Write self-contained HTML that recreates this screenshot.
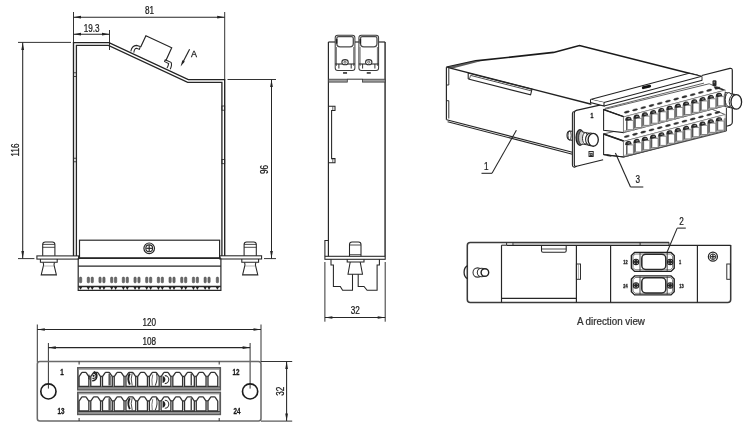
<!DOCTYPE html>
<html><head><meta charset="utf-8"><title>Module drawing</title>
<style>
html,body{margin:0;padding:0;background:#fff;}
body{width:750px;height:430px;overflow:hidden;font-family:"Liberation Sans",sans-serif;}
svg{display:block;font-family:"Liberation Sans",sans-serif;filter:blur(0.45px);}
</style></head><body>
<svg width="750" height="430" viewBox="0 0 750 430">
<rect x="0" y="0" width="750" height="430" fill="#fff"/>
<line x1="73.50" y1="12.00" x2="73.50" y2="42.50" stroke="#262626" stroke-width="0.944" />
<line x1="224.70" y1="12.00" x2="224.70" y2="79.50" stroke="#262626" stroke-width="0.944" />
<line x1="73.50" y1="17.20" x2="224.70" y2="17.20" stroke="#262626" stroke-width="1.062" />
<polygon points="73.50,17.20 81.00,15.85 81.00,18.55" fill="#222"/>
<polygon points="224.70,17.20 217.20,18.55 217.20,15.85" fill="#222"/>
<text x="0" y="0" transform="translate(149.60 13.90) scale(0.77 1)" font-size="10.6" text-anchor="middle" font-weight="normal" fill="#1a1a1a" stroke="#1a1a1a" stroke-width="0.25" >81</text>
<line x1="73.50" y1="34.20" x2="109.50" y2="34.20" stroke="#262626" stroke-width="1.062" />
<polygon points="73.50,34.20 81.00,32.85 81.00,35.55" fill="#222"/>
<polygon points="109.50,34.20 102.00,35.55 102.00,32.85" fill="#222"/>
<line x1="109.50" y1="30.00" x2="109.50" y2="50.00" stroke="#262626" stroke-width="0.944" />
<text x="0" y="0" transform="translate(91.60 31.50) scale(0.77 1)" font-size="10.6" text-anchor="middle" font-weight="normal" fill="#1a1a1a" stroke="#1a1a1a" stroke-width="0.25" >19.3</text>
<line x1="18.00" y1="42.40" x2="71.00" y2="42.40" stroke="#262626" stroke-width="0.944" />
<line x1="18.00" y1="258.60" x2="34.40" y2="258.60" stroke="#262626" stroke-width="0.944" />
<line x1="22.70" y1="42.40" x2="22.70" y2="258.60" stroke="#262626" stroke-width="1.062" />
<polygon points="22.70,42.40 24.05,49.90 21.35,49.90" fill="#222"/>
<polygon points="22.70,258.60 21.35,251.10 24.05,251.10" fill="#222"/>
<text x="0" y="0" transform="translate(19.00 150.00) rotate(-90) scale(0.77 1)" font-size="10.6" text-anchor="middle" font-weight="normal" fill="#1a1a1a" stroke="#1a1a1a" stroke-width="0.25" >116</text>
<line x1="227.50" y1="79.50" x2="276.00" y2="79.50" stroke="#262626" stroke-width="0.944" />
<line x1="264.00" y1="258.60" x2="276.00" y2="258.60" stroke="#262626" stroke-width="0.944" />
<line x1="271.50" y1="79.50" x2="271.50" y2="258.60" stroke="#262626" stroke-width="1.062" />
<polygon points="271.50,79.50 272.85,87.00 270.15,87.00" fill="#222"/>
<polygon points="271.50,258.60 270.15,251.10 272.85,251.10" fill="#222"/>
<text x="0" y="0" transform="translate(268.30 169.50) rotate(-90) scale(0.77 1)" font-size="10.6" text-anchor="middle" font-weight="normal" fill="#1a1a1a" stroke="#1a1a1a" stroke-width="0.25" >96</text>
<path d="M73.5 256 L73.5 42.6 L109 42.6 L188.3 79.6 L224.7 79.6 L224.7 256" stroke="#222" stroke-width="1.357" fill="none" />
<path d="M76.4 256 L76.4 45.3 L108.4 45.3 L187.7 82.3 L221.9 82.3 L221.9 256" stroke="#262626" stroke-width="1.298" fill="none" />
<rect x="73.50" y="72.80" width="2.90" height="3.60" rx="0" stroke="#262626" stroke-width="0.826" fill="none"/>
<rect x="73.50" y="158.20" width="2.90" height="3.60" rx="0" stroke="#262626" stroke-width="0.826" fill="none"/>
<rect x="221.90" y="106.00" width="2.80" height="4.20" rx="0" stroke="#262626" stroke-width="0.826" fill="none"/>
<rect x="221.90" y="159.50" width="2.80" height="4.20" rx="0" stroke="#262626" stroke-width="0.826" fill="none"/>
<path d="M140.7 47.1 L145.9 35.7 L171.7 47.7 L165.7 61" stroke="#262626" stroke-width="1.18" fill="none" />
<path d="M130.8 51.3 C131.5 47.5 133.5 45.6 136.5 45.4 L140.3 46.6 L139.4 49.4 L136.6 48.3 C135 48.4 134.2 49.6 133.8 52.6" stroke="#262626" stroke-width="1.062" fill="none" />
<path d="M165.2 59.7 L171 62.3 C172 64 171.5 66.5 170.2 69.2 M166.2 62.4 L168.6 63.6 C168.4 65.4 167.8 66.8 167 68 M165.2 59.7 L164.6 61.6 L166.2 62.4" stroke="#262626" stroke-width="1.062" fill="none" />
<line x1="189.60" y1="49.20" x2="182.60" y2="62.80" stroke="#262626" stroke-width="1.18" />
<polygon points="180.60,66.60 182.36,60.19 184.84,61.48" fill="#222"/>
<text x="0" y="0" transform="translate(194.00 56.70) scale(0.95 1)" font-size="9.5" text-anchor="middle" font-weight="normal" fill="#1a1a1a" stroke="#1a1a1a" stroke-width="0.25" >A</text>
<rect x="36.90" y="255.90" width="41.70" height="3.20" rx="0" stroke="#262626" stroke-width="1.062" fill="none"/>
<rect x="219.80" y="255.80" width="41.80" height="3.20" rx="0" stroke="#262626" stroke-width="1.062" fill="none"/>
<path d="M42.699999999999996 255.8 L42.699999999999996 244.6 Q42.699999999999996 242 45.3 242 L52.3 242 Q54.9 242 54.9 244.6 L54.9 255.8" stroke="#262626" stroke-width="1.062" fill="none" />
<line x1="42.70" y1="244.40" x2="54.90" y2="244.40" stroke="#262626" stroke-width="0.826" />
<line x1="42.70" y1="247.30" x2="54.90" y2="247.30" stroke="#262626" stroke-width="0.826" />
<path d="M40.4 259.1 L40.4 262.3 L57.199999999999996 262.3 L57.199999999999996 259.1" stroke="#262626" stroke-width="1.062" fill="none" />
<path d="M43.199999999999996 262.3 L43.599999999999994 265 L41.199999999999996 274.9 L56.4 274.9 L54.0 265 L54.4 262.3" stroke="#262626" stroke-width="1.062" fill="none" />
<line x1="43.60" y1="266.00" x2="54.00" y2="266.00" stroke="#888" stroke-width="0.59" />
<path d="M244.1 255.8 L244.1 244.6 Q244.1 242 246.7 242 L253.7 242 Q256.3 242 256.3 244.6 L256.3 255.8" stroke="#262626" stroke-width="1.062" fill="none" />
<line x1="244.10" y1="244.40" x2="256.30" y2="244.40" stroke="#262626" stroke-width="0.826" />
<line x1="244.10" y1="247.30" x2="256.30" y2="247.30" stroke="#262626" stroke-width="0.826" />
<path d="M241.79999999999998 259.1 L241.79999999999998 262.3 L258.59999999999997 262.3 L258.59999999999997 259.1" stroke="#262626" stroke-width="1.062" fill="none" />
<path d="M244.6 262.3 L245.0 265 L242.6 274.9 L257.8 274.9 L255.39999999999998 265 L255.79999999999998 262.3" stroke="#262626" stroke-width="1.062" fill="none" />
<line x1="245.00" y1="266.00" x2="255.40" y2="266.00" stroke="#888" stroke-width="0.59" />
<rect x="79.50" y="240.20" width="140.10" height="17.80" rx="0" stroke="#262626" stroke-width="1.18" fill="none"/>
<line x1="78.20" y1="258.20" x2="220.90" y2="258.20" stroke="#262626" stroke-width="1.534" />
<path d="M78.2 258.2 L78.2 290.3 L220.9 290.3 L220.9 258.2" stroke="#262626" stroke-width="1.18" fill="none" />
<line x1="78.20" y1="266.10" x2="220.90" y2="266.10" stroke="#262626" stroke-width="1.062" />
<line x1="78.20" y1="286.50" x2="220.90" y2="286.50" stroke="#262626" stroke-width="1.652" />
<circle cx="149.20" cy="248.30" r="5.30" stroke="#262626" stroke-width="1.18" fill="none"/>
<circle cx="149.20" cy="248.30" r="3.40" stroke="#262626" stroke-width="1.062" fill="none"/>
<line x1="146.20" y1="248.30" x2="152.20" y2="248.30" stroke="#262626" stroke-width="1.18" />
<line x1="149.20" y1="245.30" x2="149.20" y2="251.30" stroke="#262626" stroke-width="1.18" />
<rect x="79.45" y="277.1" width="2.3" height="5.7" rx="0.9" fill="#6a6a6a" stroke="#444" stroke-width="0.5"/>
<rect x="216.25" y="277.1" width="2.3" height="5.7" rx="0.9" fill="#6a6a6a" stroke="#444" stroke-width="0.5"/>
<polygon points="79,287 82.2,287 80.6,289.8" fill="#222"/>
<polygon points="215.8,287 219,287 217.4,289.8" fill="#222"/>
<rect x="87.20" y="277.1" width="2.3" height="5.7" rx="0.9" fill="#6a6a6a" stroke="#444" stroke-width="0.5"/>
<rect x="91.10" y="277.1" width="2.3" height="5.7" rx="0.9" fill="#6a6a6a" stroke="#444" stroke-width="0.5"/>
<polygon points="86.75,287 89.95,287 88.35,289.9" fill="#222"/>
<polygon points="90.65,287 93.85,287 92.25,289.9" fill="#222"/>
<rect x="98.88" y="277.1" width="2.3" height="5.7" rx="0.9" fill="#6a6a6a" stroke="#444" stroke-width="0.5"/>
<rect x="102.78" y="277.1" width="2.3" height="5.7" rx="0.9" fill="#6a6a6a" stroke="#444" stroke-width="0.5"/>
<polygon points="98.43,287 101.63,287 100.03,289.9" fill="#222"/>
<polygon points="102.33,287 105.53,287 103.93,289.9" fill="#222"/>
<rect x="110.56" y="277.1" width="2.3" height="5.7" rx="0.9" fill="#6a6a6a" stroke="#444" stroke-width="0.5"/>
<rect x="114.46" y="277.1" width="2.3" height="5.7" rx="0.9" fill="#6a6a6a" stroke="#444" stroke-width="0.5"/>
<polygon points="110.11,287 113.31,287 111.71,289.9" fill="#222"/>
<polygon points="114.01,287 117.21,287 115.61,289.9" fill="#222"/>
<rect x="122.24" y="277.1" width="2.3" height="5.7" rx="0.9" fill="#6a6a6a" stroke="#444" stroke-width="0.5"/>
<rect x="126.14" y="277.1" width="2.3" height="5.7" rx="0.9" fill="#6a6a6a" stroke="#444" stroke-width="0.5"/>
<polygon points="121.79,287 124.99,287 123.39,289.9" fill="#222"/>
<polygon points="125.69,287 128.89,287 127.29,289.9" fill="#222"/>
<rect x="133.92" y="277.1" width="2.3" height="5.7" rx="0.9" fill="#6a6a6a" stroke="#444" stroke-width="0.5"/>
<rect x="137.82" y="277.1" width="2.3" height="5.7" rx="0.9" fill="#6a6a6a" stroke="#444" stroke-width="0.5"/>
<polygon points="133.47,287 136.67,287 135.07,289.9" fill="#222"/>
<polygon points="137.37,287 140.57,287 138.97,289.9" fill="#222"/>
<rect x="145.60" y="277.1" width="2.3" height="5.7" rx="0.9" fill="#6a6a6a" stroke="#444" stroke-width="0.5"/>
<rect x="149.50" y="277.1" width="2.3" height="5.7" rx="0.9" fill="#6a6a6a" stroke="#444" stroke-width="0.5"/>
<polygon points="145.15,287 148.35,287 146.75,289.9" fill="#222"/>
<polygon points="149.05,287 152.25,287 150.65,289.9" fill="#222"/>
<rect x="157.28" y="277.1" width="2.3" height="5.7" rx="0.9" fill="#6a6a6a" stroke="#444" stroke-width="0.5"/>
<rect x="161.18" y="277.1" width="2.3" height="5.7" rx="0.9" fill="#6a6a6a" stroke="#444" stroke-width="0.5"/>
<polygon points="156.83,287 160.03,287 158.43,289.9" fill="#222"/>
<polygon points="160.73,287 163.93,287 162.33,289.9" fill="#222"/>
<rect x="168.96" y="277.1" width="2.3" height="5.7" rx="0.9" fill="#6a6a6a" stroke="#444" stroke-width="0.5"/>
<rect x="172.86" y="277.1" width="2.3" height="5.7" rx="0.9" fill="#6a6a6a" stroke="#444" stroke-width="0.5"/>
<polygon points="168.51,287 171.71,287 170.11,289.9" fill="#222"/>
<polygon points="172.41,287 175.61,287 174.01,289.9" fill="#222"/>
<rect x="180.64" y="277.1" width="2.3" height="5.7" rx="0.9" fill="#6a6a6a" stroke="#444" stroke-width="0.5"/>
<rect x="184.54" y="277.1" width="2.3" height="5.7" rx="0.9" fill="#6a6a6a" stroke="#444" stroke-width="0.5"/>
<polygon points="180.19,287 183.39,287 181.79,289.9" fill="#222"/>
<polygon points="184.09,287 187.29,287 185.69,289.9" fill="#222"/>
<rect x="192.32" y="277.1" width="2.3" height="5.7" rx="0.9" fill="#6a6a6a" stroke="#444" stroke-width="0.5"/>
<rect x="196.22" y="277.1" width="2.3" height="5.7" rx="0.9" fill="#6a6a6a" stroke="#444" stroke-width="0.5"/>
<polygon points="191.87,287 195.07,287 193.47,289.9" fill="#222"/>
<polygon points="195.77,287 198.97,287 197.37,289.9" fill="#222"/>
<rect x="204.00" y="277.1" width="2.3" height="5.7" rx="0.9" fill="#6a6a6a" stroke="#444" stroke-width="0.5"/>
<rect x="207.90" y="277.1" width="2.3" height="5.7" rx="0.9" fill="#6a6a6a" stroke="#444" stroke-width="0.5"/>
<polygon points="203.55,287 206.75,287 205.15,289.9" fill="#222"/>
<polygon points="207.45,287 210.65,287 209.05,289.9" fill="#222"/>
<line x1="37.30" y1="324.50" x2="37.30" y2="362.00" stroke="#262626" stroke-width="0.944" />
<line x1="261.00" y1="324.50" x2="261.00" y2="362.00" stroke="#262626" stroke-width="0.944" />
<line x1="37.30" y1="329.50" x2="261.00" y2="329.50" stroke="#262626" stroke-width="1.062" />
<polygon points="37.30,329.50 44.80,328.15 44.80,330.85" fill="#222"/>
<polygon points="261.00,329.50 253.50,330.85 253.50,328.15" fill="#222"/>
<text x="0" y="0" transform="translate(149.20 326.30) scale(0.77 1)" font-size="10.6" text-anchor="middle" font-weight="normal" fill="#1a1a1a" stroke="#1a1a1a" stroke-width="0.25" >120</text>
<line x1="48.40" y1="343.00" x2="48.40" y2="388.60" stroke="#262626" stroke-width="0.944" />
<line x1="250.10" y1="343.00" x2="250.10" y2="388.60" stroke="#262626" stroke-width="0.944" />
<line x1="48.30" y1="347.60" x2="250.10" y2="347.60" stroke="#262626" stroke-width="1.062" />
<polygon points="48.30,347.60 55.80,346.25 55.80,348.95" fill="#222"/>
<polygon points="250.10,347.60 242.60,348.95 242.60,346.25" fill="#222"/>
<text x="0" y="0" transform="translate(149.20 344.50) scale(0.77 1)" font-size="10.6" text-anchor="middle" font-weight="normal" fill="#1a1a1a" stroke="#1a1a1a" stroke-width="0.25" >108</text>
<rect x="37.30" y="361.50" width="223.70" height="59.60" rx="2.5" stroke="#6a6a6a" stroke-width="1.534" fill="none"/>
<circle cx="48.40" cy="391.40" r="7.60" stroke="#1c1c1c" stroke-width="1.652" fill="none"/>
<circle cx="250.10" cy="391.40" r="7.60" stroke="#1c1c1c" stroke-width="1.652" fill="none"/>
<text x="0" y="0" transform="translate(62.00 374.70) scale(0.75 1)" font-size="8.4" text-anchor="middle" font-weight="bold" fill="#1a1a1a" stroke="#1a1a1a" stroke-width="0.3" >1</text>
<text x="0" y="0" transform="translate(60.90 414.10) scale(0.75 1)" font-size="8.4" text-anchor="middle" font-weight="bold" fill="#1a1a1a" stroke="#1a1a1a" stroke-width="0.3" >13</text>
<text x="0" y="0" transform="translate(236.00 374.70) scale(0.75 1)" font-size="8.4" text-anchor="middle" font-weight="bold" fill="#1a1a1a" stroke="#1a1a1a" stroke-width="0.3" >12</text>
<text x="0" y="0" transform="translate(237.00 414.10) scale(0.75 1)" font-size="8.4" text-anchor="middle" font-weight="bold" fill="#1a1a1a" stroke="#1a1a1a" stroke-width="0.3" >24</text>
<line x1="79.10" y1="361.50" x2="79.10" y2="364.50" stroke="#262626" stroke-width="0.944" />
<line x1="79.10" y1="418.00" x2="79.10" y2="421.00" stroke="#262626" stroke-width="0.944" />
<line x1="219.20" y1="361.50" x2="219.20" y2="364.50" stroke="#262626" stroke-width="0.944" />
<line x1="219.20" y1="418.00" x2="219.20" y2="421.00" stroke="#262626" stroke-width="0.944" />
<line x1="261.00" y1="361.50" x2="292.20" y2="361.50" stroke="#262626" stroke-width="0.944" />
<line x1="261.00" y1="421.10" x2="292.20" y2="421.10" stroke="#262626" stroke-width="0.944" />
<line x1="286.60" y1="361.50" x2="286.60" y2="421.10" stroke="#262626" stroke-width="1.062" />
<polygon points="286.60,361.50 287.95,369.00 285.25,369.00" fill="#222"/>
<polygon points="286.60,421.10 285.25,413.60 287.95,413.60" fill="#222"/>
<text x="0" y="0" transform="translate(283.90 391.30) rotate(-90) scale(0.77 1)" font-size="10.6" text-anchor="middle" font-weight="normal" fill="#1a1a1a" stroke="#1a1a1a" stroke-width="0.25" >32</text>
<rect x="77.90" y="367.90" width="142.30" height="21.80" rx="0" stroke="#5a5a5a" stroke-width="1.77" fill="#fff"/>
<rect x="78.6" y="368.50" width="140.9" height="1.3" fill="#999"/>
<rect x="78.6" y="387.20" width="140.9" height="2.0" fill="#909090"/>
<line x1="78.30" y1="386.90" x2="220.00" y2="386.90" stroke="#444" stroke-width="0.944" />
<path d="M79.05 386.40 L79.05 376.60 L81.55 372.80 Q81.85 372.30 82.35 372.30 L85.55 372.30 Q86.05 372.30 86.35 372.80 L88.85 376.60 L88.85 386.40 Z" stroke="#333" stroke-width="1.298" fill="#fff" />
<polygon points="88.55,375.70 89.81,377.50 91.07,375.70" fill="#333"/>
<path d="M90.77 386.40 L90.77 376.60 L93.27 372.80 Q93.57 372.30 94.07 372.30 L97.27 372.30 Q97.77 372.30 98.07 372.80 L100.57 376.60 L100.57 386.40 Z" stroke="#333" stroke-width="1.298" fill="#fff" />
<polygon points="100.27,375.70 101.53,377.50 102.79,375.70" fill="#333"/>
<path d="M102.49 386.40 L102.49 376.60 L104.99 372.80 Q105.29 372.30 105.79 372.30 L108.99 372.30 Q109.49 372.30 109.79 372.80 L112.29 376.60 L112.29 386.40 Z" stroke="#333" stroke-width="1.298" fill="#fff" />
<polygon points="111.99,375.70 113.25,377.50 114.51,375.70" fill="#333"/>
<path d="M114.21 386.40 L114.21 376.60 L116.71 372.80 Q117.01 372.30 117.51 372.30 L120.71 372.30 Q121.21 372.30 121.51 372.80 L124.01 376.60 L124.01 386.40 Z" stroke="#333" stroke-width="1.298" fill="#fff" />
<polygon points="123.71,375.70 124.97,377.50 126.23,375.70" fill="#333"/>
<path d="M125.93 386.40 L125.93 376.60 L128.43 372.80 Q128.73 372.30 129.23 372.30 L132.43 372.30 Q132.93 372.30 133.23 372.80 L135.73 376.60 L135.73 386.40 Z" stroke="#333" stroke-width="1.298" fill="#fff" />
<polygon points="135.43,375.70 136.69,377.50 137.95,375.70" fill="#333"/>
<path d="M137.65 386.40 L137.65 376.60 L140.15 372.80 Q140.45 372.30 140.95 372.30 L144.15 372.30 Q144.65 372.30 144.95 372.80 L147.45 376.60 L147.45 386.40 Z" stroke="#333" stroke-width="1.298" fill="#fff" />
<polygon points="147.15,375.70 148.41,377.50 149.67,375.70" fill="#333"/>
<path d="M149.37 386.40 L149.37 376.60 L151.87 372.80 Q152.17 372.30 152.67 372.30 L155.87 372.30 Q156.37 372.30 156.67 372.80 L159.17 376.60 L159.17 386.40 Z" stroke="#333" stroke-width="1.298" fill="#fff" />
<polygon points="158.87,375.70 160.13,377.50 161.39,375.70" fill="#333"/>
<path d="M161.09 386.40 L161.09 376.60 L163.59 372.80 Q163.89 372.30 164.39 372.30 L167.59 372.30 Q168.09 372.30 168.39 372.80 L170.89 376.60 L170.89 386.40 Z" stroke="#333" stroke-width="1.298" fill="#fff" />
<polygon points="170.59,375.70 171.85,377.50 173.11,375.70" fill="#333"/>
<path d="M172.81 386.40 L172.81 376.60 L175.31 372.80 Q175.61 372.30 176.11 372.30 L179.31 372.30 Q179.81 372.30 180.11 372.80 L182.61 376.60 L182.61 386.40 Z" stroke="#333" stroke-width="1.298" fill="#fff" />
<polygon points="182.31,375.70 183.57,377.50 184.83,375.70" fill="#333"/>
<path d="M184.53 386.40 L184.53 376.60 L187.03 372.80 Q187.33 372.30 187.83 372.30 L191.03 372.30 Q191.53 372.30 191.83 372.80 L194.33 376.60 L194.33 386.40 Z" stroke="#333" stroke-width="1.298" fill="#fff" />
<polygon points="194.03,375.70 195.29,377.50 196.55,375.70" fill="#333"/>
<path d="M196.25 386.40 L196.25 376.60 L198.75 372.80 Q199.05 372.30 199.55 372.30 L202.75 372.30 Q203.25 372.30 203.55 372.80 L206.05 376.60 L206.05 386.40 Z" stroke="#333" stroke-width="1.298" fill="#fff" />
<polygon points="205.75,375.70 207.01,377.50 208.27,375.70" fill="#333"/>
<path d="M207.97 386.40 L207.97 376.60 L210.47 372.80 Q210.77 372.30 211.27 372.30 L214.47 372.30 Q214.97 372.30 215.27 372.80 L217.77 376.60 L217.77 386.40 Z" stroke="#333" stroke-width="1.298" fill="#fff" />
<circle cx="93.57" cy="375.80" r="1.1" fill="#222"/>
<path d="M93.17 373.20 A2.6 2.6 0 1 1 92.27 378.10" stroke="#222" stroke-width="1.062" fill="none" />
<path d="M93.77 371.60 A4.7 4.7 0 0 1 92.17 380.70" stroke="#222" stroke-width="1.534" fill="none" />
<path d="M88.67 374.60 L89.37 374.60 L89.67 380.20 L88.47 378.60Z" fill="#222"/>
<line x1="109.19" y1="373.60" x2="109.19" y2="385.60" stroke="#333" stroke-width="1.298" />
<line x1="110.59" y1="375.60" x2="110.59" y2="385.60" stroke="#555" stroke-width="0.826" />
<path d="M129.83 373.60 Q126.83 378.60 129.83 384.60" stroke="#222" stroke-width="1.888" fill="none" />
<path d="M132.23 373.10 Q130.23 378.60 132.23 385.60" stroke="#444" stroke-width="0.944" fill="none" />
<path d="M156.27 373.10 Q158.27 378.60 155.27 385.60" stroke="#444" stroke-width="1.062" fill="none" />
<path d="M152.77 374.60 Q151.27 379.60 152.27 385.60" stroke="#555" stroke-width="0.826" fill="none" />
<path d="M162.59 376.10 A3.6 3.6 0 0 1 162.59 383.10 Z" fill="#222"/>
<path d="M164.79 375.60 A4 4 0 0 1 164.79 383.60" stroke="#333" stroke-width="1.062" fill="none" />
<line x1="191.23" y1="373.60" x2="191.23" y2="385.60" stroke="#333" stroke-width="1.298" />
<rect x="77.90" y="392.50" width="142.30" height="21.80" rx="0" stroke="#5a5a5a" stroke-width="1.77" fill="#fff"/>
<rect x="78.6" y="393.10" width="140.9" height="1.3" fill="#999"/>
<rect x="78.6" y="411.80" width="140.9" height="2.0" fill="#909090"/>
<line x1="78.30" y1="411.50" x2="220.00" y2="411.50" stroke="#444" stroke-width="0.944" />
<path d="M79.05 411.00 L79.05 401.20 L81.55 397.40 Q81.85 396.90 82.35 396.90 L85.55 396.90 Q86.05 396.90 86.35 397.40 L88.85 401.20 L88.85 411.00 Z" stroke="#333" stroke-width="1.298" fill="#fff" />
<polygon points="88.55,400.30 89.81,402.10 91.07,400.30" fill="#333"/>
<path d="M90.77 411.00 L90.77 401.20 L93.27 397.40 Q93.57 396.90 94.07 396.90 L97.27 396.90 Q97.77 396.90 98.07 397.40 L100.57 401.20 L100.57 411.00 Z" stroke="#333" stroke-width="1.298" fill="#fff" />
<polygon points="100.27,400.30 101.53,402.10 102.79,400.30" fill="#333"/>
<path d="M102.49 411.00 L102.49 401.20 L104.99 397.40 Q105.29 396.90 105.79 396.90 L108.99 396.90 Q109.49 396.90 109.79 397.40 L112.29 401.20 L112.29 411.00 Z" stroke="#333" stroke-width="1.298" fill="#fff" />
<polygon points="111.99,400.30 113.25,402.10 114.51,400.30" fill="#333"/>
<path d="M114.21 411.00 L114.21 401.20 L116.71 397.40 Q117.01 396.90 117.51 396.90 L120.71 396.90 Q121.21 396.90 121.51 397.40 L124.01 401.20 L124.01 411.00 Z" stroke="#333" stroke-width="1.298" fill="#fff" />
<polygon points="123.71,400.30 124.97,402.10 126.23,400.30" fill="#333"/>
<path d="M125.93 411.00 L125.93 401.20 L128.43 397.40 Q128.73 396.90 129.23 396.90 L132.43 396.90 Q132.93 396.90 133.23 397.40 L135.73 401.20 L135.73 411.00 Z" stroke="#333" stroke-width="1.298" fill="#fff" />
<polygon points="135.43,400.30 136.69,402.10 137.95,400.30" fill="#333"/>
<path d="M137.65 411.00 L137.65 401.20 L140.15 397.40 Q140.45 396.90 140.95 396.90 L144.15 396.90 Q144.65 396.90 144.95 397.40 L147.45 401.20 L147.45 411.00 Z" stroke="#333" stroke-width="1.298" fill="#fff" />
<polygon points="147.15,400.30 148.41,402.10 149.67,400.30" fill="#333"/>
<path d="M149.37 411.00 L149.37 401.20 L151.87 397.40 Q152.17 396.90 152.67 396.90 L155.87 396.90 Q156.37 396.90 156.67 397.40 L159.17 401.20 L159.17 411.00 Z" stroke="#333" stroke-width="1.298" fill="#fff" />
<polygon points="158.87,400.30 160.13,402.10 161.39,400.30" fill="#333"/>
<path d="M161.09 411.00 L161.09 401.20 L163.59 397.40 Q163.89 396.90 164.39 396.90 L167.59 396.90 Q168.09 396.90 168.39 397.40 L170.89 401.20 L170.89 411.00 Z" stroke="#333" stroke-width="1.298" fill="#fff" />
<polygon points="170.59,400.30 171.85,402.10 173.11,400.30" fill="#333"/>
<path d="M172.81 411.00 L172.81 401.20 L175.31 397.40 Q175.61 396.90 176.11 396.90 L179.31 396.90 Q179.81 396.90 180.11 397.40 L182.61 401.20 L182.61 411.00 Z" stroke="#333" stroke-width="1.298" fill="#fff" />
<polygon points="182.31,400.30 183.57,402.10 184.83,400.30" fill="#333"/>
<path d="M184.53 411.00 L184.53 401.20 L187.03 397.40 Q187.33 396.90 187.83 396.90 L191.03 396.90 Q191.53 396.90 191.83 397.40 L194.33 401.20 L194.33 411.00 Z" stroke="#333" stroke-width="1.298" fill="#fff" />
<polygon points="194.03,400.30 195.29,402.10 196.55,400.30" fill="#333"/>
<path d="M196.25 411.00 L196.25 401.20 L198.75 397.40 Q199.05 396.90 199.55 396.90 L202.75 396.90 Q203.25 396.90 203.55 397.40 L206.05 401.20 L206.05 411.00 Z" stroke="#333" stroke-width="1.298" fill="#fff" />
<polygon points="205.75,400.30 207.01,402.10 208.27,400.30" fill="#333"/>
<path d="M207.97 411.00 L207.97 401.20 L210.47 397.40 Q210.77 396.90 211.27 396.90 L214.47 396.90 Q214.97 396.90 215.27 397.40 L217.77 401.20 L217.77 411.00 Z" stroke="#333" stroke-width="1.298" fill="#fff" />
<line x1="109.19" y1="398.20" x2="109.19" y2="410.20" stroke="#333" stroke-width="1.298" />
<line x1="110.59" y1="400.20" x2="110.59" y2="410.20" stroke="#555" stroke-width="0.826" />
<path d="M129.83 398.20 Q126.83 403.20 129.83 409.20" stroke="#222" stroke-width="1.888" fill="none" />
<path d="M132.23 397.70 Q130.23 403.20 132.23 410.20" stroke="#444" stroke-width="0.944" fill="none" />
<path d="M156.27 397.70 Q158.27 403.20 155.27 410.20" stroke="#444" stroke-width="1.062" fill="none" />
<path d="M152.77 399.20 Q151.27 404.20 152.27 410.20" stroke="#555" stroke-width="0.826" fill="none" />
<path d="M162.59 400.70 A3.6 3.6 0 0 1 162.59 407.70 Z" fill="#222"/>
<path d="M164.79 400.20 A4 4 0 0 1 164.79 408.20" stroke="#333" stroke-width="1.062" fill="none" />
<line x1="191.23" y1="398.20" x2="191.23" y2="410.20" stroke="#333" stroke-width="1.298" />
<line x1="328.40" y1="42.00" x2="328.40" y2="256.20" stroke="#262626" stroke-width="1.18" />
<line x1="385.10" y1="42.00" x2="385.10" y2="256.20" stroke="#555" stroke-width="1.77" />
<line x1="328.40" y1="42.00" x2="335.00" y2="42.00" stroke="#262626" stroke-width="1.18" />
<line x1="355.00" y1="42.00" x2="359.00" y2="42.00" stroke="#262626" stroke-width="1.18" />
<line x1="378.50" y1="42.00" x2="385.10" y2="42.00" stroke="#262626" stroke-width="1.18" />
<rect x="328.4" y="79.2" width="18.9" height="2.9" fill="#a0a0a0" stroke="#3a3a3a" stroke-width="0.8"/>
<rect x="362.4" y="79.2" width="22.7" height="2.9" fill="#a0a0a0" stroke="#3a3a3a" stroke-width="0.8"/>
<line x1="347.30" y1="79.20" x2="362.40" y2="79.20" stroke="#262626" stroke-width="0.944" />
<rect x="335.20" y="35.30" width="19.70" height="35.20" rx="2.5" stroke="#3a3a3a" stroke-width="1.003" fill="#fff"/>
<path d="M336.80 38.4 Q336.80 36.7 338.60 36.7 L351.50 36.7 Q353.30 36.7 353.30 38.4 L353.30 43.5 Q353.30 46.8 349.90 46.8 L340.20 46.8 Q336.80 46.8 336.80 43.5 Z" stroke="#4a4a4a" stroke-width="1.298" fill="none" />
<rect x="335.80" y="39" width="1.6" height="4.6" fill="#222"/>
<line x1="336.40" y1="47.00" x2="336.40" y2="66.00" stroke="#555" stroke-width="0.826" />
<line x1="353.70" y1="47.00" x2="353.70" y2="66.00" stroke="#555" stroke-width="0.826" />
<line x1="335.20" y1="64.00" x2="354.90" y2="64.00" stroke="#262626" stroke-width="1.062" />
<ellipse cx="345.05" cy="62.20" rx="3.20" ry="2.60" stroke="#333" stroke-width="1.062" fill="#fff" />
<circle cx="345.05" cy="62.20" r="1.10" stroke="#333" stroke-width="0.708" fill="none"/>
<line x1="338.90" y1="64.00" x2="338.90" y2="68.50" stroke="#262626" stroke-width="0.944" />
<line x1="351.20" y1="64.00" x2="351.20" y2="68.50" stroke="#262626" stroke-width="0.944" />
<rect x="343.05" y="72.2" width="4" height="1.5" fill="#222"/>
<rect x="358.90" y="35.30" width="19.70" height="35.20" rx="2.5" stroke="#3a3a3a" stroke-width="1.003" fill="#fff"/>
<path d="M360.50 38.4 Q360.50 36.7 362.30 36.7 L375.20 36.7 Q377.00 36.7 377.00 38.4 L377.00 43.5 Q377.00 46.8 373.60 46.8 L363.90 46.8 Q360.50 46.8 360.50 43.5 Z" stroke="#4a4a4a" stroke-width="1.298" fill="none" />
<rect x="359.50" y="39" width="1.6" height="4.6" fill="#222"/>
<line x1="360.10" y1="47.00" x2="360.10" y2="66.00" stroke="#555" stroke-width="0.826" />
<line x1="377.40" y1="47.00" x2="377.40" y2="66.00" stroke="#555" stroke-width="0.826" />
<line x1="358.90" y1="64.00" x2="378.60" y2="64.00" stroke="#262626" stroke-width="1.062" />
<ellipse cx="368.75" cy="62.20" rx="3.20" ry="2.60" stroke="#333" stroke-width="1.062" fill="#fff" />
<circle cx="368.75" cy="62.20" r="1.10" stroke="#333" stroke-width="0.708" fill="none"/>
<line x1="362.60" y1="64.00" x2="362.60" y2="68.50" stroke="#262626" stroke-width="0.944" />
<line x1="374.90" y1="64.00" x2="374.90" y2="68.50" stroke="#262626" stroke-width="0.944" />
<rect x="366.75" y="72.2" width="4" height="1.5" fill="#222"/>
<path d="M328.4 106.3 L335 106.3 L335 110.5 L331.6 110.5 L331.6 158.6 L335 158.6 L335 162.8 L328.4 162.8" stroke="#262626" stroke-width="1.062" fill="none" />
<line x1="332.80" y1="106.30" x2="332.80" y2="110.50" stroke="#262626" stroke-width="0.708" />
<line x1="332.80" y1="158.60" x2="332.80" y2="162.80" stroke="#262626" stroke-width="0.708" />
<path d="M328.4 240.5 L324.9 240.5 L324.9 256.3" stroke="#262626" stroke-width="1.062" fill="none" />
<rect x="324.90" y="256.30" width="60.30" height="3.00" rx="0" stroke="#262626" stroke-width="1.062" fill="none"/>
<path d="M349.5 256.3 L349.5 244.6 Q349.5 242 352 242 L358.5 242 Q361 242 361 244.6 L361 256.3" stroke="#262626" stroke-width="1.062" fill="none" />
<line x1="349.50" y1="245.00" x2="361.00" y2="245.00" stroke="#262626" stroke-width="0.826" />
<line x1="349.50" y1="254.70" x2="361.00" y2="254.70" stroke="#262626" stroke-width="0.826" />
<path d="M347.2 259.3 L347.2 262 L364 262 L364 259.3" stroke="#262626" stroke-width="1.062" fill="none" />
<path d="M350.2 262 L348 274.2 L362.5 274.2 L360.2 262" stroke="#262626" stroke-width="1.062" fill="none" />
<path d="M331 259.3 L331 265 L333.4 265 L333.4 286.5 L340.3 286.5 L342.6 290.3 L352.5 290.3 L352.5 274.2" stroke="#262626" stroke-width="1.062" fill="none" />
<path d="M379.4 259.3 L379.4 265 L377.1 265 L377.1 290.3 L367.1 290.3 L364 286.5 L358.2 286.5 L358.2 274.2" stroke="#262626" stroke-width="1.062" fill="none" />
<line x1="324.90" y1="262.00" x2="324.90" y2="321.70" stroke="#262626" stroke-width="0.944" />
<line x1="385.20" y1="262.00" x2="385.20" y2="321.70" stroke="#262626" stroke-width="0.944" />
<line x1="324.90" y1="317.50" x2="385.20" y2="317.50" stroke="#262626" stroke-width="1.062" />
<polygon points="324.90,317.50 332.40,316.15 332.40,318.85" fill="#222"/>
<polygon points="385.20,317.50 377.70,318.85 377.70,316.15" fill="#222"/>
<text x="0" y="0" transform="translate(355.30 314.10) scale(0.77 1)" font-size="10.6" text-anchor="middle" font-weight="normal" fill="#1a1a1a" stroke="#1a1a1a" stroke-width="0.25" >32</text>
<path d="M669 242.4 L470.3 242.4 Q467.3 242.4 467.3 245.4 L467.3 299.6 Q467.3 302.6 470.3 302.6 L727.7 302.6 Q730.7 302.6 730.7 299.6 L730.7 245.1" stroke="#3a3a3a" stroke-width="1.534" fill="none" />
<line x1="506.60" y1="245.40" x2="730.70" y2="245.40" stroke="#262626" stroke-width="1.416" />
<line x1="513.00" y1="242.60" x2="513.00" y2="245.20" stroke="#262626" stroke-width="0.944" />
<line x1="506.60" y1="242.60" x2="506.60" y2="245.20" stroke="#262626" stroke-width="0.944" />
<line x1="513.00" y1="243.90" x2="669.00" y2="243.90" stroke="#888" stroke-width="0.708" />
<line x1="640.10" y1="242.40" x2="640.10" y2="245.20" stroke="#262626" stroke-width="0.944" />
<line x1="669.00" y1="242.40" x2="669.00" y2="245.20" stroke="#262626" stroke-width="0.944" />
<line x1="501.50" y1="245.20" x2="501.50" y2="302.60" stroke="#262626" stroke-width="1.18" />
<line x1="576.40" y1="245.20" x2="576.40" y2="302.60" stroke="#262626" stroke-width="1.18" />
<line x1="501.50" y1="298.40" x2="576.40" y2="298.40" stroke="#262626" stroke-width="1.062" />
<line x1="501.50" y1="245.20" x2="506.60" y2="245.20" stroke="#262626" stroke-width="1.062" />
<path d="M541.5 245.2 L541.5 250.8 Q541.5 252.3 543 252.3 L564.7 252.3 Q566.2 252.3 566.2 250.8 L566.2 245.2" stroke="#262626" stroke-width="1.062" fill="none" />
<line x1="541.50" y1="249.00" x2="566.20" y2="249.00" stroke="#262626" stroke-width="0.826" />
<rect x="576.40" y="264.00" width="4.10" height="15.30" rx="0" stroke="#262626" stroke-width="0.944" fill="none"/>
<line x1="578.40" y1="264.00" x2="578.40" y2="279.30" stroke="#777" stroke-width="0.59" />
<line x1="610.60" y1="245.20" x2="610.60" y2="302.60" stroke="#262626" stroke-width="1.18" />
<line x1="697.40" y1="245.20" x2="697.40" y2="302.60" stroke="#262626" stroke-width="1.18" />
<circle cx="477.60" cy="272.50" r="4.60" stroke="#333" stroke-width="1.062" fill="none"/>
<circle cx="481.60" cy="272.50" r="4.30" stroke="#333" stroke-width="1.062" fill="#fff"/>
<circle cx="484.90" cy="272.50" r="3.80" stroke="#222" stroke-width="1.416" fill="#fff"/>
<path d="M467.6 265.6 Q464.1 267.5 464.1 272.2 Q464.1 276.9 467.6 278.7" stroke="#262626" stroke-width="1.298" fill="none" />
<rect x="726.80" y="264.00" width="3.50" height="15.30" rx="0" stroke="#262626" stroke-width="0.944" fill="none"/>
<circle cx="712.90" cy="256.70" r="4.50" stroke="#262626" stroke-width="1.298" fill="none"/>
<circle cx="712.90" cy="256.70" r="2.80" stroke="#262626" stroke-width="0.944" fill="none"/>
<line x1="710.30" y1="256.70" x2="715.50" y2="256.70" stroke="#262626" stroke-width="1.18" />
<line x1="712.90" y1="254.10" x2="712.90" y2="259.30" stroke="#262626" stroke-width="1.18" />
<path d="M634.6 252.4 L671.0 252.4 L674.2 255.6 L674.2 268.2 L671.0 271.4 L634.6 271.4 L631.4 268.2 L631.4 255.6 Z" stroke="#222" stroke-width="1.416" fill="#fff" />
<path d="M635.2 254.0 L670.4 254.0 L672.6 256.2 L672.6 267.59999999999997 L670.4 269.79999999999995 L635.2 269.79999999999995 L633.0 267.59999999999997 L633.0 256.2 Z" stroke="#444" stroke-width="0.708" fill="none" />
<rect x="641.80" y="254.30" width="24.00" height="15.20" rx="4" stroke="#2a2a2a" stroke-width="1.534" fill="#fff"/>
<line x1="640.00" y1="252.90" x2="640.00" y2="270.90" stroke="#262626" stroke-width="0.826" />
<line x1="667.20" y1="252.90" x2="667.20" y2="270.90" stroke="#262626" stroke-width="0.826" />
<circle cx="636.00" cy="261.90" r="2.70" stroke="#222" stroke-width="1.062" fill="none"/>
<circle cx="636.00" cy="261.90" r="1.50" stroke="#222" stroke-width="0.826" fill="#555"/>
<line x1="633.60" y1="261.90" x2="638.40" y2="261.90" stroke="#222" stroke-width="0.944" />
<line x1="636.00" y1="259.50" x2="636.00" y2="264.30" stroke="#222" stroke-width="0.944" />
<circle cx="670.20" cy="261.90" r="2.70" stroke="#222" stroke-width="1.062" fill="none"/>
<circle cx="670.20" cy="261.90" r="1.50" stroke="#222" stroke-width="0.826" fill="#555"/>
<line x1="667.80" y1="261.90" x2="672.60" y2="261.90" stroke="#222" stroke-width="0.944" />
<line x1="670.20" y1="259.50" x2="670.20" y2="264.30" stroke="#222" stroke-width="0.944" />
<path d="M634.6 275.9 L671.0 275.9 L674.2 279.09999999999997 L674.2 291.7 L671.0 294.9 L634.6 294.9 L631.4 291.7 L631.4 279.09999999999997 Z" stroke="#222" stroke-width="1.416" fill="#fff" />
<path d="M635.2 277.5 L670.4 277.5 L672.6 279.7 L672.6 291.09999999999997 L670.4 293.29999999999995 L635.2 293.29999999999995 L633.0 291.09999999999997 L633.0 279.7 Z" stroke="#444" stroke-width="0.708" fill="none" />
<rect x="641.80" y="277.80" width="24.00" height="15.20" rx="4" stroke="#2a2a2a" stroke-width="1.534" fill="#fff"/>
<line x1="640.00" y1="276.40" x2="640.00" y2="294.40" stroke="#262626" stroke-width="0.826" />
<line x1="667.20" y1="276.40" x2="667.20" y2="294.40" stroke="#262626" stroke-width="0.826" />
<circle cx="636.00" cy="285.40" r="2.70" stroke="#222" stroke-width="1.062" fill="none"/>
<circle cx="636.00" cy="285.40" r="1.50" stroke="#222" stroke-width="0.826" fill="#555"/>
<line x1="633.60" y1="285.40" x2="638.40" y2="285.40" stroke="#222" stroke-width="0.944" />
<line x1="636.00" y1="283.00" x2="636.00" y2="287.80" stroke="#222" stroke-width="0.944" />
<circle cx="670.20" cy="285.40" r="2.70" stroke="#222" stroke-width="1.062" fill="none"/>
<circle cx="670.20" cy="285.40" r="1.50" stroke="#222" stroke-width="0.826" fill="#555"/>
<line x1="667.80" y1="285.40" x2="672.60" y2="285.40" stroke="#222" stroke-width="0.944" />
<line x1="670.20" y1="283.00" x2="670.20" y2="287.80" stroke="#222" stroke-width="0.944" />
<text x="0" y="0" transform="translate(625.40 263.60) scale(0.7 1)" font-size="5.6" text-anchor="middle" font-weight="bold" fill="#1a1a1a" stroke="#1a1a1a" stroke-width="0.3" >12</text>
<text x="0" y="0" transform="translate(680.00 263.60) scale(0.7 1)" font-size="5.6" text-anchor="middle" font-weight="bold" fill="#1a1a1a" stroke="#1a1a1a" stroke-width="0.3" >1</text>
<text x="0" y="0" transform="translate(625.40 288.30) scale(0.7 1)" font-size="5.6" text-anchor="middle" font-weight="bold" fill="#1a1a1a" stroke="#1a1a1a" stroke-width="0.3" >24</text>
<text x="0" y="0" transform="translate(681.40 288.30) scale(0.7 1)" font-size="5.6" text-anchor="middle" font-weight="bold" fill="#1a1a1a" stroke="#1a1a1a" stroke-width="0.3" >13</text>
<line x1="666.70" y1="253.00" x2="677.20" y2="228.10" stroke="#262626" stroke-width="1.062" />
<line x1="677.20" y1="228.10" x2="685.80" y2="228.10" stroke="#262626" stroke-width="1.062" />
<text x="0" y="0" transform="translate(681.40 224.50) scale(0.77 1)" font-size="10.6" text-anchor="middle" font-weight="normal" fill="#1a1a1a" stroke="#1a1a1a" stroke-width="0.25" >2</text>
<text x="0" y="0" transform="translate(610.90 325.30) scale(0.98 1)" font-size="10" text-anchor="middle" font-weight="normal" fill="#333" stroke="#333" stroke-width="0.25" >A direction view</text>
<path d="M446.3 67.2 L475.6 60.9 L553.6 52.4 L579.5 45.5 L698 75.5" stroke="#1a1a1a" stroke-width="1.593" fill="none" />
<polygon points="446.6,67.2 475.6,60.9 480.5,61.3 452.5,68.4" fill="#5a5a5a"/>
<line x1="447.50" y1="67.40" x2="591.40" y2="104.20" stroke="#222" stroke-width="1.416" />
<path d="M446.4 67.2 L446.4 119.8" stroke="#262626" stroke-width="1.18" fill="none" />
<line x1="448.80" y1="68.20" x2="448.80" y2="85.00" stroke="#262626" stroke-width="0.944" />
<line x1="446.40" y1="85.00" x2="448.80" y2="85.00" stroke="#262626" stroke-width="0.944" />
<line x1="448.80" y1="100.70" x2="448.80" y2="118.50" stroke="#262626" stroke-width="0.944" />
<line x1="446.40" y1="100.70" x2="448.80" y2="100.70" stroke="#262626" stroke-width="0.944" />
<line x1="446.60" y1="119.80" x2="572.40" y2="152.30" stroke="#262626" stroke-width="1.18" />
<line x1="447.60" y1="121.70" x2="572.40" y2="154.20" stroke="#262626" stroke-width="1.062" />
<path d="M468.2 78.6 L468.2 73.1 L532 89.2 L530.6 94.8 L469.3 79.3 Z" stroke="#262626" stroke-width="1.062" fill="none" />
<line x1="470.60" y1="75.40" x2="531.40" y2="90.90" stroke="#262626" stroke-width="0.826" />
<line x1="469.30" y1="79.30" x2="470.60" y2="75.40" stroke="#262626" stroke-width="0.708" />
<path d="M572.4 131.3 L569.5 131.0 Q567.0 131.5 567.0 135.3 Q567.0 139.3 569.5 139.9 L572.4 140.2" stroke="#262626" stroke-width="1.062" fill="none" />
<ellipse cx="569.60" cy="135.50" rx="1.60" ry="4.30" stroke="#262626" stroke-width="0.826" fill="none" />
<path d="M603.1 104.3 L576.3 110.4 Q574.3 110.9 574.3 112.9 L574.3 164.4 Q574.3 166.9 576.6 166.3 L603.1 159.8" stroke="#222" stroke-width="1.18" fill="none" />
<path d="M574.3 111.5 Q572.4 111.6 572.4 113.6 L572.4 164.9 Q572.5 167.4 575 167.1 L576.6 166.3" stroke="#222" stroke-width="1.062" fill="none" />
<text x="0" y="0" transform="translate(592.00 118.00) scale(0.8 1)" font-size="6.5" text-anchor="middle" font-weight="bold" fill="#1a1a1a" stroke="#1a1a1a" stroke-width="0.3" >1</text>
<rect x="589.00" y="151.50" width="4.20" height="5.00" rx="0" stroke="#222" stroke-width="0.944" fill="none"/>
<text x="0" y="0" transform="translate(591.10 155.60) scale(0.8 1)" font-size="3.6" text-anchor="middle" font-weight="bold" fill="#1a1a1a" stroke="#1a1a1a" stroke-width="0.3" >13</text>
<ellipse cx="580.00" cy="137.50" rx="3.90" ry="7.90" stroke="#222" stroke-width="1.298" fill="#6e6e6e" />
<ellipse cx="581.60" cy="137.80" rx="3.00" ry="6.80" stroke="#222" stroke-width="0.826" fill="#cfcfcf" />
<path d="M582.4 132.0 L589.5 133.3 L589.5 145.3 L582.4 144.0" stroke="#222" stroke-width="0.944" fill="#fff" />
<ellipse cx="585.20" cy="138.30" rx="2.70" ry="5.70" stroke="#222" stroke-width="0.944" fill="#fff" />
<ellipse cx="590.60" cy="139.40" rx="5.00" ry="6.40" stroke="#222" stroke-width="1.062" fill="#fff" />
<ellipse cx="593.20" cy="139.80" rx="5.10" ry="6.40" stroke="#222" stroke-width="1.357" fill="#fff" />
<path d="M701.8 75.5 L729.9 68.4 Q732.3 67.9 732.3 70.4 L732.3 122.3 Q732.3 124.5 730.3 125.1 L726.6 126.2" stroke="#222" stroke-width="1.18" fill="none" />
<path d="M590.5 99.6 L689 73.2 L701.8 76.3 L604 102.4 Z" stroke="#222" stroke-width="1.062" fill="#fff" />
<path d="M590.5 99.6 L590.5 102.6 L604 106 L604 102.4" stroke="#222" stroke-width="1.062" fill="#fff" />
<line x1="604.00" y1="106.00" x2="702.30" y2="80.20" stroke="#222" stroke-width="1.062" />
<line x1="702.00" y1="76.30" x2="702.00" y2="80.20" stroke="#262626" stroke-width="0.944" />
<rect x="641.8" y="85.5" width="9.4" height="2.8" rx="1.3" fill="#111" transform="rotate(-14 646.5 86.9)"/>
<line x1="604.80" y1="108.40" x2="704.00" y2="83.10" stroke="#444" stroke-width="0.826" />
<line x1="608.00" y1="110.80" x2="707.20" y2="85.20" stroke="#5a5a5a" stroke-width="2.006" />
<line x1="612.00" y1="111.90" x2="708.80" y2="86.90" stroke="#555" stroke-width="0.708" />
<path d="M603.6 134.00 L623.5 141.40 L725.2 114.57 L709.2 108.17 Z" stroke="#444" stroke-width="0.826" fill="#fff" />
<path d="M603.6 134.00 L623.5 141.00 L623.5 157.00 L603.6 154.60 Z" stroke="#222" stroke-width="1.062" fill="#fff" />
<line x1="603.60" y1="134.00" x2="623.50" y2="141.00" stroke="#222" stroke-width="1.534" />
<path d="M623.5 141.40 L725.2 114.57 L725.2 130.17 L623.5 157.00 Z" stroke="#777" stroke-width="0.59" fill="#fff" />
<line x1="623.50" y1="157.00" x2="725.20" y2="130.17" stroke="#555" stroke-width="1.062" />
<line x1="623.50" y1="155.60" x2="725.20" y2="128.77" stroke="#888" stroke-width="0.708" />
<ellipse cx="626.80" cy="136.40" rx="2.70" ry="0.95" stroke="#333" stroke-width="0.354" fill="#2f2f2f" transform="rotate(-13 626.80 136.40)"/>
<polygon points="633.40,142.70 635.00,142.30 635.00,154.20 633.40,154.60" fill="#a6a6a6" stroke="#555" stroke-width="0.35"/>
<polygon points="626.00,154.50 633.40,153.70 633.40,154.90 626.00,155.90" fill="#b5b5b5"/>
<rect x="627.20" y="144.90" width="6.2" height="9.2" rx="0.7" fill="#fff" stroke="#5a5a5a" stroke-width="0.7"/>
<polygon points="626.10,145.50 627.10,145.70 627.10,153.90 626.10,155.10" fill="#505050"/>
<path d="M625.20 144.90 Q625.00 141.90 627.80 141.10 Q630.60 140.70 631.20 142.50 L631.80 144.30 L629.60 144.50 L626.80 145.50 Z" fill="#262626"/>
<polygon points="627.60,142.60 630.00,142.20 630.30,143.30 627.90,143.70" fill="#8a8a8a"/>
<ellipse cx="635.04" cy="134.23" rx="2.70" ry="0.95" stroke="#333" stroke-width="0.354" fill="#2f2f2f" transform="rotate(-13 635.04 134.23)"/>
<polygon points="641.64,140.53 643.24,140.13 643.24,152.03 641.64,152.43" fill="#a6a6a6" stroke="#555" stroke-width="0.35"/>
<polygon points="634.24,152.33 641.64,151.53 641.64,152.73 634.24,153.73" fill="#b5b5b5"/>
<rect x="635.44" y="142.73" width="6.2" height="9.2" rx="0.7" fill="#fff" stroke="#5a5a5a" stroke-width="0.7"/>
<polygon points="634.34,143.33 635.34,143.53 635.34,151.73 634.34,152.93" fill="#505050"/>
<path d="M633.44 142.73 Q633.24 139.73 636.04 138.93 Q638.84 138.53 639.44 140.33 L640.04 142.13 L637.84 142.33 L635.04 143.33 Z" fill="#262626"/>
<polygon points="635.84,140.43 638.24,140.03 638.54,141.13 636.14,141.53" fill="#8a8a8a"/>
<ellipse cx="643.27" cy="132.05" rx="2.70" ry="0.95" stroke="#333" stroke-width="0.354" fill="#2f2f2f" transform="rotate(-13 643.27 132.05)"/>
<polygon points="649.87,138.35 651.47,137.95 651.47,149.85 649.87,150.25" fill="#a6a6a6" stroke="#555" stroke-width="0.35"/>
<polygon points="642.47,150.15 649.87,149.35 649.87,150.55 642.47,151.55" fill="#b5b5b5"/>
<rect x="643.67" y="140.55" width="6.2" height="9.2" rx="0.7" fill="#fff" stroke="#5a5a5a" stroke-width="0.7"/>
<polygon points="642.57,141.15 643.57,141.35 643.57,149.55 642.57,150.75" fill="#505050"/>
<path d="M641.67 140.55 Q641.47 137.55 644.27 136.75 Q647.07 136.35 647.67 138.15 L648.27 139.95 L646.07 140.15 L643.27 141.15 Z" fill="#262626"/>
<polygon points="644.07,138.25 646.47,137.85 646.77,138.95 644.37,139.35" fill="#8a8a8a"/>
<ellipse cx="651.51" cy="129.88" rx="2.70" ry="0.95" stroke="#333" stroke-width="0.354" fill="#2f2f2f" transform="rotate(-13 651.51 129.88)"/>
<polygon points="658.11,136.18 659.71,135.78 659.71,147.68 658.11,148.08" fill="#a6a6a6" stroke="#555" stroke-width="0.35"/>
<polygon points="650.71,147.98 658.11,147.18 658.11,148.38 650.71,149.38" fill="#b5b5b5"/>
<rect x="651.91" y="138.38" width="6.2" height="9.2" rx="0.7" fill="#fff" stroke="#5a5a5a" stroke-width="0.7"/>
<polygon points="650.81,138.98 651.81,139.18 651.81,147.38 650.81,148.58" fill="#505050"/>
<path d="M649.91 138.38 Q649.71 135.38 652.51 134.58 Q655.31 134.18 655.91 135.98 L656.51 137.78 L654.31 137.98 L651.51 138.98 Z" fill="#262626"/>
<polygon points="652.31,136.08 654.71,135.68 655.01,136.78 652.61,137.18" fill="#8a8a8a"/>
<ellipse cx="659.74" cy="127.71" rx="2.70" ry="0.95" stroke="#333" stroke-width="0.354" fill="#2f2f2f" transform="rotate(-13 659.74 127.71)"/>
<polygon points="666.34,134.01 667.94,133.61 667.94,145.51 666.34,145.91" fill="#a6a6a6" stroke="#555" stroke-width="0.35"/>
<polygon points="658.94,145.81 666.34,145.01 666.34,146.21 658.94,147.21" fill="#b5b5b5"/>
<rect x="660.14" y="136.21" width="6.2" height="9.2" rx="0.7" fill="#fff" stroke="#5a5a5a" stroke-width="0.7"/>
<polygon points="659.04,136.81 660.04,137.01 660.04,145.21 659.04,146.41" fill="#505050"/>
<path d="M658.14 136.21 Q657.94 133.21 660.74 132.41 Q663.54 132.01 664.14 133.81 L664.74 135.61 L662.54 135.81 L659.74 136.81 Z" fill="#262626"/>
<polygon points="660.54,133.91 662.94,133.51 663.24,134.61 660.84,135.01" fill="#8a8a8a"/>
<ellipse cx="667.98" cy="125.53" rx="2.70" ry="0.95" stroke="#333" stroke-width="0.354" fill="#2f2f2f" transform="rotate(-13 667.98 125.53)"/>
<polygon points="674.58,131.84 676.18,131.44 676.18,143.34 674.58,143.74" fill="#a6a6a6" stroke="#555" stroke-width="0.35"/>
<polygon points="667.18,143.63 674.58,142.84 674.58,144.03 667.18,145.03" fill="#b5b5b5"/>
<rect x="668.38" y="134.03" width="6.2" height="9.2" rx="0.7" fill="#fff" stroke="#5a5a5a" stroke-width="0.7"/>
<polygon points="667.28,134.63 668.28,134.84 668.28,143.03 667.28,144.24" fill="#505050"/>
<path d="M666.38 134.03 Q666.18 131.03 668.98 130.24 Q671.78 129.84 672.38 131.63 L672.98 133.44 L670.78 133.63 L667.98 134.63 Z" fill="#262626"/>
<polygon points="668.78,131.74 671.18,131.34 671.48,132.44 669.08,132.84" fill="#8a8a8a"/>
<ellipse cx="676.22" cy="123.36" rx="2.70" ry="0.95" stroke="#333" stroke-width="0.354" fill="#2f2f2f" transform="rotate(-13 676.22 123.36)"/>
<polygon points="682.82,129.66 684.42,129.26 684.42,141.16 682.82,141.56" fill="#a6a6a6" stroke="#555" stroke-width="0.35"/>
<polygon points="675.42,141.46 682.82,140.66 682.82,141.86 675.42,142.86" fill="#b5b5b5"/>
<rect x="676.62" y="131.86" width="6.2" height="9.2" rx="0.7" fill="#fff" stroke="#5a5a5a" stroke-width="0.7"/>
<polygon points="675.52,132.46 676.52,132.66 676.52,140.86 675.52,142.06" fill="#505050"/>
<path d="M674.62 131.86 Q674.42 128.86 677.22 128.06 Q680.02 127.66 680.62 129.46 L681.22 131.26 L679.02 131.46 L676.22 132.46 Z" fill="#262626"/>
<polygon points="677.02,129.56 679.42,129.16 679.72,130.26 677.32,130.66" fill="#8a8a8a"/>
<ellipse cx="684.45" cy="121.19" rx="2.70" ry="0.95" stroke="#333" stroke-width="0.354" fill="#2f2f2f" transform="rotate(-13 684.45 121.19)"/>
<polygon points="691.05,127.49 692.65,127.09 692.65,138.99 691.05,139.39" fill="#a6a6a6" stroke="#555" stroke-width="0.35"/>
<polygon points="683.65,139.29 691.05,138.49 691.05,139.69 683.65,140.69" fill="#b5b5b5"/>
<rect x="684.85" y="129.69" width="6.2" height="9.2" rx="0.7" fill="#fff" stroke="#5a5a5a" stroke-width="0.7"/>
<polygon points="683.75,130.29 684.75,130.49 684.75,138.69 683.75,139.89" fill="#505050"/>
<path d="M682.85 129.69 Q682.65 126.69 685.45 125.89 Q688.25 125.49 688.85 127.29 L689.45 129.09 L687.25 129.29 L684.45 130.29 Z" fill="#262626"/>
<polygon points="685.25,127.39 687.65,126.99 687.95,128.09 685.55,128.49" fill="#8a8a8a"/>
<ellipse cx="692.69" cy="119.02" rx="2.70" ry="0.95" stroke="#333" stroke-width="0.354" fill="#2f2f2f" transform="rotate(-13 692.69 119.02)"/>
<polygon points="699.29,125.32 700.89,124.92 700.89,136.82 699.29,137.22" fill="#a6a6a6" stroke="#555" stroke-width="0.35"/>
<polygon points="691.89,137.12 699.29,136.32 699.29,137.52 691.89,138.52" fill="#b5b5b5"/>
<rect x="693.09" y="127.52" width="6.2" height="9.2" rx="0.7" fill="#fff" stroke="#5a5a5a" stroke-width="0.7"/>
<polygon points="691.99,128.12 692.99,128.32 692.99,136.52 691.99,137.72" fill="#505050"/>
<path d="M691.09 127.52 Q690.89 124.52 693.69 123.72 Q696.49 123.32 697.09 125.12 L697.69 126.92 L695.49 127.12 L692.69 128.12 Z" fill="#262626"/>
<polygon points="693.49,125.22 695.89,124.82 696.19,125.92 693.79,126.32" fill="#8a8a8a"/>
<ellipse cx="700.92" cy="116.84" rx="2.70" ry="0.95" stroke="#333" stroke-width="0.354" fill="#2f2f2f" transform="rotate(-13 700.92 116.84)"/>
<polygon points="707.52,123.14 709.12,122.74 709.12,134.64 707.52,135.04" fill="#a6a6a6" stroke="#555" stroke-width="0.35"/>
<polygon points="700.12,134.94 707.52,134.14 707.52,135.34 700.12,136.34" fill="#b5b5b5"/>
<rect x="701.32" y="125.34" width="6.2" height="9.2" rx="0.7" fill="#fff" stroke="#5a5a5a" stroke-width="0.7"/>
<polygon points="700.22,125.94 701.22,126.14 701.22,134.34 700.22,135.54" fill="#505050"/>
<path d="M699.32 125.34 Q699.12 122.34 701.92 121.54 Q704.72 121.14 705.32 122.94 L705.92 124.74 L703.72 124.94 L700.92 125.94 Z" fill="#262626"/>
<polygon points="701.72,123.04 704.12,122.64 704.42,123.74 702.02,124.14" fill="#8a8a8a"/>
<ellipse cx="709.16" cy="114.67" rx="2.70" ry="0.95" stroke="#333" stroke-width="0.354" fill="#2f2f2f" transform="rotate(-13 709.16 114.67)"/>
<polygon points="715.76,120.97 717.36,120.57 717.36,132.47 715.76,132.87" fill="#a6a6a6" stroke="#555" stroke-width="0.35"/>
<polygon points="708.36,132.77 715.76,131.97 715.76,133.17 708.36,134.17" fill="#b5b5b5"/>
<rect x="709.56" y="123.17" width="6.2" height="9.2" rx="0.7" fill="#fff" stroke="#5a5a5a" stroke-width="0.7"/>
<polygon points="708.46,123.77 709.46,123.97 709.46,132.17 708.46,133.37" fill="#505050"/>
<path d="M707.56 123.17 Q707.36 120.17 710.16 119.37 Q712.96 118.97 713.56 120.77 L714.16 122.57 L711.96 122.77 L709.16 123.77 Z" fill="#262626"/>
<polygon points="709.96,120.87 712.36,120.47 712.66,121.57 710.26,121.97" fill="#8a8a8a"/>
<ellipse cx="717.40" cy="112.50" rx="2.70" ry="0.95" stroke="#333" stroke-width="0.354" fill="#2f2f2f" transform="rotate(-13 717.40 112.50)"/>
<polygon points="724.00,118.80 725.60,118.40 725.60,130.30 724.00,130.70" fill="#a6a6a6" stroke="#555" stroke-width="0.35"/>
<polygon points="716.60,130.60 724.00,129.80 724.00,131.00 716.60,132.00" fill="#b5b5b5"/>
<rect x="717.80" y="121.00" width="6.2" height="9.2" rx="0.7" fill="#fff" stroke="#5a5a5a" stroke-width="0.7"/>
<polygon points="716.70,121.60 717.70,121.80 717.70,130.00 716.70,131.20" fill="#505050"/>
<path d="M715.80 121.00 Q715.60 118.00 718.40 117.20 Q721.20 116.80 721.80 118.60 L722.40 120.40 L720.20 120.60 L717.40 121.60 Z" fill="#262626"/>
<polygon points="718.20,118.70 720.60,118.30 720.90,119.40 718.50,119.80" fill="#8a8a8a"/>
<path d="M603.6 109.60 L623.5 117.00 L725.2 90.17 L709.2 83.77 Z" stroke="#444" stroke-width="0.826" fill="#fff" />
<path d="M603.6 109.60 L623.5 116.60 L623.5 132.60 L603.6 130.20 Z" stroke="#222" stroke-width="1.062" fill="#fff" />
<line x1="603.60" y1="109.60" x2="623.50" y2="116.60" stroke="#222" stroke-width="1.534" />
<path d="M623.5 117.00 L725.2 90.17 L725.2 105.77 L623.5 132.60 Z" stroke="#777" stroke-width="0.59" fill="#fff" />
<line x1="623.50" y1="132.60" x2="725.20" y2="105.77" stroke="#555" stroke-width="1.062" />
<line x1="623.50" y1="131.20" x2="725.20" y2="104.37" stroke="#888" stroke-width="0.708" />
<ellipse cx="626.80" cy="112.00" rx="2.70" ry="0.95" stroke="#333" stroke-width="0.354" fill="#2f2f2f" transform="rotate(-13 626.80 112.00)"/>
<polygon points="633.40,118.30 635.00,117.90 635.00,129.80 633.40,130.20" fill="#a6a6a6" stroke="#555" stroke-width="0.35"/>
<polygon points="626.00,130.10 633.40,129.30 633.40,130.50 626.00,131.50" fill="#b5b5b5"/>
<rect x="627.20" y="120.50" width="6.2" height="9.2" rx="0.7" fill="#fff" stroke="#5a5a5a" stroke-width="0.7"/>
<polygon points="626.10,121.10 627.10,121.30 627.10,129.50 626.10,130.70" fill="#505050"/>
<path d="M625.20 120.50 Q625.00 117.50 627.80 116.70 Q630.60 116.30 631.20 118.10 L631.80 119.90 L629.60 120.10 L626.80 121.10 Z" fill="#262626"/>
<polygon points="627.60,118.20 630.00,117.80 630.30,118.90 627.90,119.30" fill="#8a8a8a"/>
<ellipse cx="635.04" cy="109.83" rx="2.70" ry="0.95" stroke="#333" stroke-width="0.354" fill="#2f2f2f" transform="rotate(-13 635.04 109.83)"/>
<polygon points="641.64,116.13 643.24,115.73 643.24,127.63 641.64,128.03" fill="#a6a6a6" stroke="#555" stroke-width="0.35"/>
<polygon points="634.24,127.93 641.64,127.13 641.64,128.33 634.24,129.33" fill="#b5b5b5"/>
<rect x="635.44" y="118.33" width="6.2" height="9.2" rx="0.7" fill="#fff" stroke="#5a5a5a" stroke-width="0.7"/>
<polygon points="634.34,118.93 635.34,119.13 635.34,127.33 634.34,128.53" fill="#505050"/>
<path d="M633.44 118.33 Q633.24 115.33 636.04 114.53 Q638.84 114.13 639.44 115.93 L640.04 117.73 L637.84 117.93 L635.04 118.93 Z" fill="#262626"/>
<polygon points="635.84,116.03 638.24,115.63 638.54,116.73 636.14,117.13" fill="#8a8a8a"/>
<ellipse cx="643.27" cy="107.65" rx="2.70" ry="0.95" stroke="#333" stroke-width="0.354" fill="#2f2f2f" transform="rotate(-13 643.27 107.65)"/>
<polygon points="649.87,113.95 651.47,113.55 651.47,125.45 649.87,125.85" fill="#a6a6a6" stroke="#555" stroke-width="0.35"/>
<polygon points="642.47,125.75 649.87,124.95 649.87,126.15 642.47,127.15" fill="#b5b5b5"/>
<rect x="643.67" y="116.15" width="6.2" height="9.2" rx="0.7" fill="#fff" stroke="#5a5a5a" stroke-width="0.7"/>
<polygon points="642.57,116.75 643.57,116.95 643.57,125.15 642.57,126.35" fill="#505050"/>
<path d="M641.67 116.15 Q641.47 113.15 644.27 112.35 Q647.07 111.95 647.67 113.75 L648.27 115.55 L646.07 115.75 L643.27 116.75 Z" fill="#262626"/>
<polygon points="644.07,113.85 646.47,113.45 646.77,114.55 644.37,114.95" fill="#8a8a8a"/>
<ellipse cx="651.51" cy="105.48" rx="2.70" ry="0.95" stroke="#333" stroke-width="0.354" fill="#2f2f2f" transform="rotate(-13 651.51 105.48)"/>
<polygon points="658.11,111.78 659.71,111.38 659.71,123.28 658.11,123.68" fill="#a6a6a6" stroke="#555" stroke-width="0.35"/>
<polygon points="650.71,123.58 658.11,122.78 658.11,123.98 650.71,124.98" fill="#b5b5b5"/>
<rect x="651.91" y="113.98" width="6.2" height="9.2" rx="0.7" fill="#fff" stroke="#5a5a5a" stroke-width="0.7"/>
<polygon points="650.81,114.58 651.81,114.78 651.81,122.98 650.81,124.18" fill="#505050"/>
<path d="M649.91 113.98 Q649.71 110.98 652.51 110.18 Q655.31 109.78 655.91 111.58 L656.51 113.38 L654.31 113.58 L651.51 114.58 Z" fill="#262626"/>
<polygon points="652.31,111.68 654.71,111.28 655.01,112.38 652.61,112.78" fill="#8a8a8a"/>
<ellipse cx="659.74" cy="103.31" rx="2.70" ry="0.95" stroke="#333" stroke-width="0.354" fill="#2f2f2f" transform="rotate(-13 659.74 103.31)"/>
<polygon points="666.34,109.61 667.94,109.21 667.94,121.11 666.34,121.51" fill="#a6a6a6" stroke="#555" stroke-width="0.35"/>
<polygon points="658.94,121.41 666.34,120.61 666.34,121.81 658.94,122.81" fill="#b5b5b5"/>
<rect x="660.14" y="111.81" width="6.2" height="9.2" rx="0.7" fill="#fff" stroke="#5a5a5a" stroke-width="0.7"/>
<polygon points="659.04,112.41 660.04,112.61 660.04,120.81 659.04,122.01" fill="#505050"/>
<path d="M658.14 111.81 Q657.94 108.81 660.74 108.01 Q663.54 107.61 664.14 109.41 L664.74 111.21 L662.54 111.41 L659.74 112.41 Z" fill="#262626"/>
<polygon points="660.54,109.51 662.94,109.11 663.24,110.21 660.84,110.61" fill="#8a8a8a"/>
<ellipse cx="667.98" cy="101.14" rx="2.70" ry="0.95" stroke="#333" stroke-width="0.354" fill="#2f2f2f" transform="rotate(-13 667.98 101.14)"/>
<polygon points="674.58,107.44 676.18,107.04 676.18,118.94 674.58,119.34" fill="#a6a6a6" stroke="#555" stroke-width="0.35"/>
<polygon points="667.18,119.24 674.58,118.44 674.58,119.64 667.18,120.64" fill="#b5b5b5"/>
<rect x="668.38" y="109.64" width="6.2" height="9.2" rx="0.7" fill="#fff" stroke="#5a5a5a" stroke-width="0.7"/>
<polygon points="667.28,110.24 668.28,110.44 668.28,118.64 667.28,119.84" fill="#505050"/>
<path d="M666.38 109.64 Q666.18 106.64 668.98 105.84 Q671.78 105.44 672.38 107.24 L672.98 109.04 L670.78 109.24 L667.98 110.24 Z" fill="#262626"/>
<polygon points="668.78,107.34 671.18,106.94 671.48,108.04 669.08,108.44" fill="#8a8a8a"/>
<ellipse cx="676.22" cy="98.96" rx="2.70" ry="0.95" stroke="#333" stroke-width="0.354" fill="#2f2f2f" transform="rotate(-13 676.22 98.96)"/>
<polygon points="682.82,105.26 684.42,104.86 684.42,116.76 682.82,117.16" fill="#a6a6a6" stroke="#555" stroke-width="0.35"/>
<polygon points="675.42,117.06 682.82,116.26 682.82,117.46 675.42,118.46" fill="#b5b5b5"/>
<rect x="676.62" y="107.46" width="6.2" height="9.2" rx="0.7" fill="#fff" stroke="#5a5a5a" stroke-width="0.7"/>
<polygon points="675.52,108.06 676.52,108.26 676.52,116.46 675.52,117.66" fill="#505050"/>
<path d="M674.62 107.46 Q674.42 104.46 677.22 103.66 Q680.02 103.26 680.62 105.06 L681.22 106.86 L679.02 107.06 L676.22 108.06 Z" fill="#262626"/>
<polygon points="677.02,105.16 679.42,104.76 679.72,105.86 677.32,106.26" fill="#8a8a8a"/>
<ellipse cx="684.45" cy="96.79" rx="2.70" ry="0.95" stroke="#333" stroke-width="0.354" fill="#2f2f2f" transform="rotate(-13 684.45 96.79)"/>
<polygon points="691.05,103.09 692.65,102.69 692.65,114.59 691.05,114.99" fill="#a6a6a6" stroke="#555" stroke-width="0.35"/>
<polygon points="683.65,114.89 691.05,114.09 691.05,115.29 683.65,116.29" fill="#b5b5b5"/>
<rect x="684.85" y="105.29" width="6.2" height="9.2" rx="0.7" fill="#fff" stroke="#5a5a5a" stroke-width="0.7"/>
<polygon points="683.75,105.89 684.75,106.09 684.75,114.29 683.75,115.49" fill="#505050"/>
<path d="M682.85 105.29 Q682.65 102.29 685.45 101.49 Q688.25 101.09 688.85 102.89 L689.45 104.69 L687.25 104.89 L684.45 105.89 Z" fill="#262626"/>
<polygon points="685.25,102.99 687.65,102.59 687.95,103.69 685.55,104.09" fill="#8a8a8a"/>
<ellipse cx="692.69" cy="94.62" rx="2.70" ry="0.95" stroke="#333" stroke-width="0.354" fill="#2f2f2f" transform="rotate(-13 692.69 94.62)"/>
<polygon points="699.29,100.92 700.89,100.52 700.89,112.42 699.29,112.82" fill="#a6a6a6" stroke="#555" stroke-width="0.35"/>
<polygon points="691.89,112.72 699.29,111.92 699.29,113.12 691.89,114.12" fill="#b5b5b5"/>
<rect x="693.09" y="103.12" width="6.2" height="9.2" rx="0.7" fill="#fff" stroke="#5a5a5a" stroke-width="0.7"/>
<polygon points="691.99,103.72 692.99,103.92 692.99,112.12 691.99,113.32" fill="#505050"/>
<path d="M691.09 103.12 Q690.89 100.12 693.69 99.32 Q696.49 98.92 697.09 100.72 L697.69 102.52 L695.49 102.72 L692.69 103.72 Z" fill="#262626"/>
<polygon points="693.49,100.82 695.89,100.42 696.19,101.52 693.79,101.92" fill="#8a8a8a"/>
<ellipse cx="700.92" cy="92.44" rx="2.70" ry="0.95" stroke="#333" stroke-width="0.354" fill="#2f2f2f" transform="rotate(-13 700.92 92.44)"/>
<polygon points="707.52,98.74 709.12,98.34 709.12,110.24 707.52,110.64" fill="#a6a6a6" stroke="#555" stroke-width="0.35"/>
<polygon points="700.12,110.54 707.52,109.74 707.52,110.94 700.12,111.94" fill="#b5b5b5"/>
<rect x="701.32" y="100.94" width="6.2" height="9.2" rx="0.7" fill="#fff" stroke="#5a5a5a" stroke-width="0.7"/>
<polygon points="700.22,101.54 701.22,101.74 701.22,109.94 700.22,111.14" fill="#505050"/>
<path d="M699.32 100.94 Q699.12 97.94 701.92 97.14 Q704.72 96.74 705.32 98.54 L705.92 100.34 L703.72 100.54 L700.92 101.54 Z" fill="#262626"/>
<polygon points="701.72,98.64 704.12,98.24 704.42,99.34 702.02,99.74" fill="#8a8a8a"/>
<ellipse cx="709.16" cy="90.27" rx="2.70" ry="0.95" stroke="#333" stroke-width="0.354" fill="#2f2f2f" transform="rotate(-13 709.16 90.27)"/>
<polygon points="715.76,96.57 717.36,96.17 717.36,108.07 715.76,108.47" fill="#a6a6a6" stroke="#555" stroke-width="0.35"/>
<polygon points="708.36,108.37 715.76,107.57 715.76,108.77 708.36,109.77" fill="#b5b5b5"/>
<rect x="709.56" y="98.77" width="6.2" height="9.2" rx="0.7" fill="#fff" stroke="#5a5a5a" stroke-width="0.7"/>
<polygon points="708.46,99.37 709.46,99.57 709.46,107.77 708.46,108.97" fill="#505050"/>
<path d="M707.56 98.77 Q707.36 95.77 710.16 94.97 Q712.96 94.57 713.56 96.37 L714.16 98.17 L711.96 98.37 L709.16 99.37 Z" fill="#262626"/>
<polygon points="709.96,96.47 712.36,96.07 712.66,97.17 710.26,97.57" fill="#8a8a8a"/>
<ellipse cx="717.40" cy="88.10" rx="2.70" ry="0.95" stroke="#333" stroke-width="0.354" fill="#2f2f2f" transform="rotate(-13 717.40 88.10)"/>
<polygon points="724.00,94.40 725.60,94.00 725.60,105.90 724.00,106.30" fill="#a6a6a6" stroke="#555" stroke-width="0.35"/>
<polygon points="716.60,106.20 724.00,105.40 724.00,106.60 716.60,107.60" fill="#b5b5b5"/>
<rect x="717.80" y="96.60" width="6.2" height="9.2" rx="0.7" fill="#fff" stroke="#5a5a5a" stroke-width="0.7"/>
<polygon points="716.70,97.20 717.70,97.40 717.70,105.60 716.70,106.80" fill="#505050"/>
<path d="M715.80 96.60 Q715.60 93.60 718.40 92.80 Q721.20 92.40 721.80 94.20 L722.40 96.00 L720.20 96.20 L717.40 97.20 Z" fill="#262626"/>
<polygon points="718.20,94.30 720.60,93.90 720.90,95.00 718.50,95.40" fill="#8a8a8a"/>
<line x1="603.60" y1="154.60" x2="623.50" y2="157.00" stroke="#222" stroke-width="1.062" />
<polygon points="606.8,154.6 611.4,155.2 611.4,156.7 606.8,156.1" fill="#222"/>
<line x1="623.50" y1="157.00" x2="726.40" y2="131.00" stroke="#4a4a4a" stroke-width="1.062" />
<line x1="726.40" y1="131.00" x2="726.40" y2="108.00" stroke="#222" stroke-width="0.944" />
<path d="M725.2 92.4 L735.5 94.6 L735.5 108.8 L725.2 106.6 Z" stroke="#222" stroke-width="0.944" fill="#fff" />
<ellipse cx="728.80" cy="99.60" rx="3.60" ry="7.00" stroke="#222" stroke-width="0.944" fill="#fff" />
<ellipse cx="734.20" cy="101.60" rx="5.00" ry="7.20" stroke="#222" stroke-width="0.944" fill="#fff" />
<ellipse cx="736.30" cy="101.90" rx="5.30" ry="7.30" stroke="#222" stroke-width="1.298" fill="#fff" />
<rect x="712.5" y="80.3" width="4.0" height="5.9" rx="1.2" fill="#2a2a2a"/>
<rect x="713.6" y="81.6" width="1.4" height="1.6" fill="#777"/>
<line x1="714.00" y1="87.00" x2="723.50" y2="89.80" stroke="#222" stroke-width="1.298" />
<line x1="516.40" y1="130.20" x2="492.00" y2="173.30" stroke="#262626" stroke-width="1.062" />
<line x1="481.50" y1="173.30" x2="492.00" y2="173.30" stroke="#262626" stroke-width="1.062" />
<text x="0" y="0" transform="translate(486.20 169.50) scale(0.77 1)" font-size="10.6" text-anchor="middle" font-weight="normal" fill="#1a1a1a" stroke="#1a1a1a" stroke-width="0.25" >1</text>
<line x1="615.40" y1="153.00" x2="630.50" y2="187.00" stroke="#262626" stroke-width="1.121" />
<line x1="630.50" y1="187.00" x2="643.30" y2="187.00" stroke="#262626" stroke-width="1.062" />
<text x="0" y="0" transform="translate(637.80 183.30) scale(0.77 1)" font-size="10.6" text-anchor="middle" font-weight="normal" fill="#1a1a1a" stroke="#1a1a1a" stroke-width="0.25" >3</text>
</svg>
</body></html>
